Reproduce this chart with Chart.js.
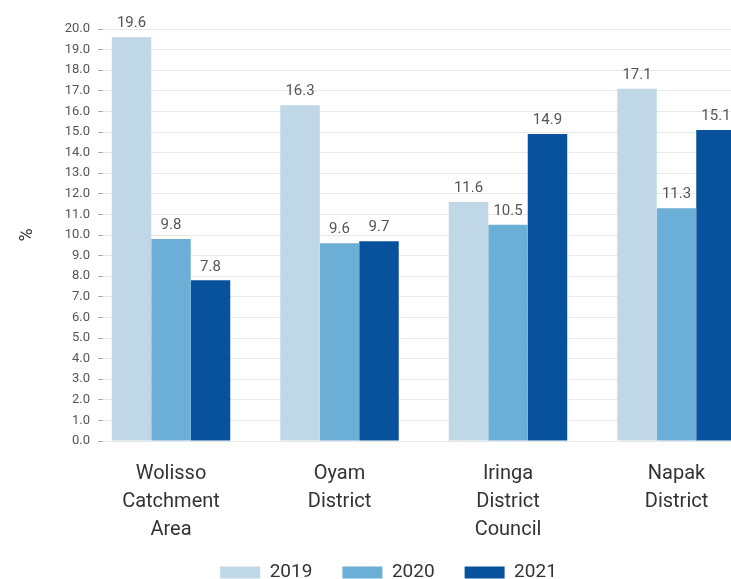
<!DOCTYPE html>
<html>
<head>
<meta charset="utf-8">
<script src="https://cdn.jsdelivr.net/npm/chart.js@4"></script>
<style>
  html, body { margin: 0; padding: 0; background: #fff; overflow: hidden; }
  #wrap { width: 731px; height: 579px; }
</style>
</head>
<body>
<div id="wrap"><canvas id="chart" width="731" height="579"></canvas></div>
<script>
const categories = [
  ["Wolisso", "Catchment", "Area"],
  ["Oyam", "District"],
  ["Iringa", "District", "Council"],
  ["Napak", "District"],
];
const years = ["2019", "2020", "2021"];
const values2019 = [19.6, 16.3, 11.6, 17.1];
const values2020 = [9.8, 9.6, 10.5, 11.3];
const values2021 = [7.8, 9.7, 14.9, 15.1];
const colors = ["#bfd7e6", "#6baed6", "#08519c"];

const toPoints = (arr) => arr.map((v, i) => ({ x: i, y: v }));

// labels above each bar
const barLabels = {
  id: "barLabels",
  afterDatasetsDraw(chart) {
    const ctx = chart.ctx;
    ctx.save();
    ctx.font = "15px Roboto";
    ctx.fillStyle = "#555";
    ctx.textAlign = "center";
    ctx.textBaseline = "bottom";
    chart.data.datasets.forEach((ds, d) => {
      chart.getDatasetMeta(d).data.forEach((bar, i) => {
        ctx.fillText(ds.data[i].y.toFixed(1), bar.x, bar.y - 6);
      });
    });
    ctx.restore();
  },
};

// legend: a bit right of centre and low on the canvas, like the original
const legendShift = {
  id: "legendShift",
  afterLayout(chart) {
    const lg = chart.legend;
    lg.left += 23;
    lg.right += 23;
    lg.top = 533;
    lg.bottom = chart.height;
    lg.height = lg.bottom - lg.top;
  },
};

new Chart(document.getElementById("chart"), {
  type: "bar",
  data: {
    datasets: [
      { label: years[0], data: toPoints(values2019), backgroundColor: colors[0] },
      { label: years[1], data: toPoints(values2020), backgroundColor: colors[1] },
      { label: years[2], data: toPoints(values2021), backgroundColor: colors[2] },
    ],
  },
  plugins: [barLabels, legendShift],
  options: {
    responsive: false,
    animation: false,
    devicePixelRatio: 1,
    categoryPercentage: 0.703,
    barPercentage: 1,
    layout: { padding: { top: 29, left: 0, right: 0, bottom: 0 } },
    plugins: {
      legend: {
        position: "bottom",
        maxHeight: 38,
        labels: {
          boxWidth: 40,
          boxHeight: 12,
          padding: 30,
          color: "#333",
          font: { family: "Roboto", size: 19 },
        },
      },
      tooltip: { enabled: false },
    },
    scales: {
      x: {
        type: "linear",
        min: -0.4036,
        max: 3.3234,
        offset: false,
        grid: { display: false, drawTicks: false },
        border: { display: false },
        afterBuildTicks: (scale) => {
          scale.ticks = categories.map((c, i) => ({ value: i }));
        },
        afterFit: (scale) => {
          scale.height = 100;
        },
        ticks: {
          autoSkip: false,
          maxRotation: 0,
          padding: 19,
          color: "#333",
          font: { family: "Roboto", size: 20, lineHeight: 1.4 },
          callback: (v) => categories[v],
        },
      },
      y: {
        min: 0,
        max: 20,
        afterFit: (scale) => {
          scale.width = 103;
        },
        grid: { color: "#e8e8e8", tickColor: "#aaa", tickLength: 5 },
        border: { display: false },
        title: {
          display: true,
          text: "%",
          color: "#333",
          padding: { top: 17, bottom: 0 },
          font: { family: "Roboto", size: 18 },
        },
        ticks: {
          stepSize: 1,
          padding: 8,
          color: "#555",
          font: { family: "Roboto", size: 13 },
          callback: (v) => v.toFixed(1),
        },
      },
    },
  },
});
</script>
</body>
</html>
